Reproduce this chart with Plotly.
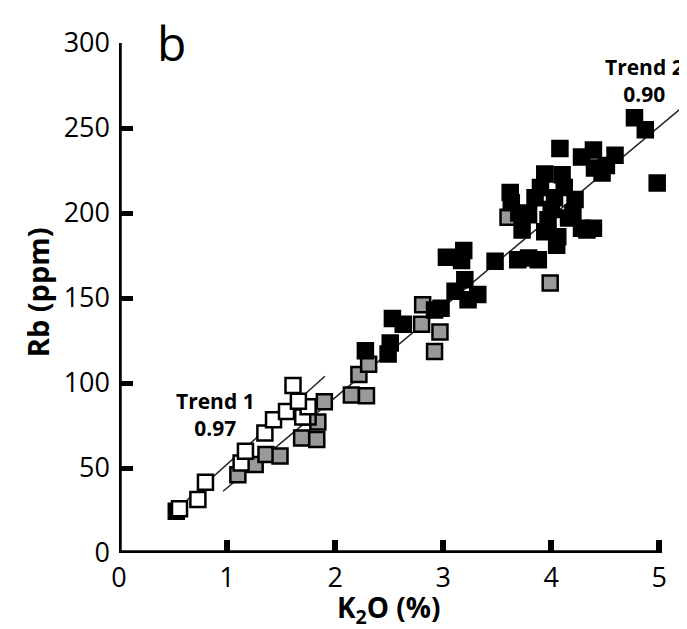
import plotly.graph_objects as go

# ---- data ----
white_k2o = [0.56, 0.73, 0.80, 1.13, 1.17, 1.35, 1.43, 1.55, 1.70, 1.75, 1.66, 1.61]
white_rb = [26, 31.4, 41.6, 53, 59.8, 70.6, 78.4, 83.3, 80, 86, 89.2, 98.6]

gray_k2o = [1.10, 1.26, 1.36, 1.49, 1.69, 1.83, 1.84, 1.75, 1.90, 2.15, 2.29, 2.22, 2.31,
            2.80, 2.81, 2.92, 2.97, 3.60, 3.99]
gray_rb = [46, 52, 58, 57, 67.6, 66.7, 77, 80, 89, 93, 92.5, 105, 111,
           134.5, 146, 118.5, 130, 197.5, 158.8]

black_k2o = [0.53, 2.28, 2.49, 2.51, 2.53, 2.63, 2.92, 2.98, 3.03, 3.19, 3.17, 3.11, 3.23,
             3.20, 3.32, 3.48, 3.69, 3.79, 3.88, 4.05, 3.73, 4.33, 4.39, 4.28, 3.62, 3.63,
             3.94, 4.10, 3.85, 4.03, 4.22, 3.79, 3.97, 4.16, 3.94, 4.06, 4.08, 4.28, 4.39,
             4.40, 4.59, 4.47, 4.51, 4.77, 4.87, 4.98, 3.90, 4.00, 4.12, 4.20, 3.70]
black_rb = [24.5, 119, 117, 123.5, 138, 134.5, 143, 144, 174, 178, 172, 154, 149,
            160.8, 152, 171.6, 172.5, 173.5, 172.5, 181, 190, 190, 191, 191, 212, 206,
            223, 222.5, 209, 209, 208, 199, 196, 197, 189, 186, 238, 233, 237,
            226.5, 234, 223.5, 228, 256, 249, 217.6, 215, 202, 215, 200, 200]

trend1_k2o = [0.515, 1.905]
trend1_rb = [24.5, 104]
trend2_k2o = [0.963, 5.24]
trend2_rb = [36.3, 263.7]

x_ticks = [0, 1, 2, 3, 4, 5]
y_ticks = [0, 50, 100, 150, 200, 250, 300]

FONT = "Open Sans"
msize = 15
mline = 2.5

fig = go.Figure()
fig.add_trace(go.Scatter(x=trend1_k2o, y=trend1_rb, mode="lines",
                         line=dict(color="#222222", width=1.5), showlegend=False))
fig.add_trace(go.Scatter(x=trend2_k2o, y=trend2_rb, mode="lines",
                         line=dict(color="#222222", width=1.5), showlegend=False))
fig.add_trace(go.Scatter(x=gray_k2o, y=gray_rb, mode="markers", showlegend=False,
                         marker=dict(symbol="square", size=msize, color="#999999",
                                     line=dict(color="black", width=mline))))
fig.add_trace(go.Scatter(x=black_k2o, y=black_rb, mode="markers", showlegend=False,
                         marker=dict(symbol="square", size=msize, color="black",
                                     line=dict(color="black", width=mline))))
fig.add_trace(go.Scatter(x=white_k2o, y=white_rb, mode="markers", showlegend=False,
                         marker=dict(symbol="square", size=msize, color="white",
                                     line=dict(color="black", width=mline))))

# axis lines (only over the labelled span)
fig.add_shape(type="line", x0=0, x1=5, y0=0, y1=0, xref="x", yref="y",
              line=dict(color="black", width=5.5), layer="above")
fig.add_shape(type="line", x0=0, x1=0, y0=0, y1=300, xref="x", yref="y",
              line=dict(color="black", width=5.5), layer="above")

fig.add_annotation(x=0.89, y=81.5, xref="x", yref="y", text="<b>Trend 1<br>0.97</b>",
                   showarrow=False, font=dict(family=FONT, size=21, color="black"),
                   align="center")
fig.add_annotation(x=4.86, y=278, xref="x", yref="y", text="<b>Trend 2<br>0.90</b>",
                   showarrow=False, font=dict(family=FONT, size=21, color="black"),
                   align="center")
fig.add_annotation(x=0.092, y=1.0686, xref="paper", yref="paper", text="b",
                   showarrow=False, font=dict(family=FONT, size=48, color="black"),
                   xanchor="center", yanchor="top")
# axis titles
fig.add_annotation(x=-0.14, y=0.512, xref="paper", yref="paper", text="<b>Rb (ppm)</b>",
                   textangle=-90, showarrow=False,
                   font=dict(family=FONT, size=29, color="black"),
                   xanchor="center", yanchor="middle")
fig.add_annotation(x=2.5, y=-0.11, xref="x", yref="paper",
                   text="<b>K<sub>2</sub>O (%)</b>", showarrow=False,
                   font=dict(family=FONT, size=28, color="black"),
                   xanchor="center", yanchor="middle")

fig.update_layout(
    width=687, height=629,
    margin=dict(l=111, r=0, t=35, b=84),
    plot_bgcolor="white", paper_bgcolor="white",
    font=dict(family=FONT, size=27, color="black"),
    xaxis=dict(range=[0, 5.33], tickvals=x_ticks, ticks="inside", ticklen=13,
               tickwidth=6, tickcolor="black", showgrid=False, zeroline=False,
               showline=False, tickfont=dict(size=27), ticklabelstandoff=6),
    yaxis=dict(range=[0, 300], tickvals=y_ticks, ticks="inside", ticklen=14,
               tickwidth=5, tickcolor="black", showgrid=False, zeroline=False,
               showline=False, tickfont=dict(size=27), ticklabelstandoff=8),
)

fig.write_html("out.html")
